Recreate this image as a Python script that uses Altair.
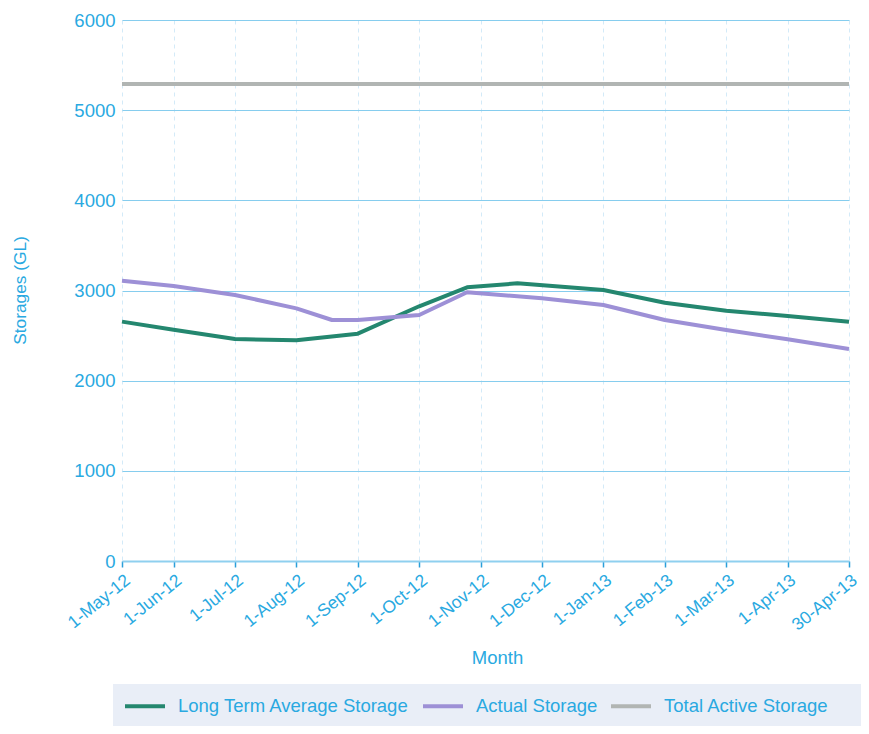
import altair as alt
import pandas as pd

# x positions are in "month" units along the axis: 1-Jun-12 = 1, ..., 30-Apr-13 = 12
tick_labels = ["1-May-12", "1-Jun-12", "1-Jul-12", "1-Aug-12", "1-Sep-12", "1-Oct-12",
               "1-Nov-12", "1-Dec-12", "1-Jan-13", "1-Feb-13", "1-Mar-13", "1-Apr-13", "30-Apr-13"]
tick_pos = [0.16, 1, 2, 3, 4, 5, 6, 7, 8, 9, 10, 11, 12]

ltas_pos = [0.16, 1, 2, 3, 4, 5, 5.78, 6.6, 8, 9, 10, 11, 12]
ltas_val = [2655, 2565, 2462, 2448, 2521, 2825, 3035, 3080, 3005, 2865, 2776, 2717, 2654]

actual_pos = [0.16, 1, 2, 3, 3.58, 4, 5, 5.78, 7, 8, 9, 10, 11, 12]
actual_val = [3108, 3050, 2950, 2802, 2673, 2673, 2728, 2980, 2915, 2839, 2673, 2562, 2459, 2351]

total_pos = [0.16, 12]
total_val = [5290, 5290]

y_ticks = [0, 1000, 2000, 3000, 4000, 5000, 6000]

series_names = ["Long Term Average Storage", "Actual Storage", "Total Active Storage"]
series_colors = ["#24876f", "#9d90d6", "#b1b5b3"]
series_widths = [4, 4, 5]

rows = []
for name, xs, ys in [(series_names[0], ltas_pos, ltas_val),
                     (series_names[1], actual_pos, actual_val),
                     (series_names[2], total_pos, total_val)]:
    for x, y in zip(xs, ys):
        rows.append({"series": name, "pos": x, "value": y})
df = pd.DataFrame(rows)

TXT = "#29a9e1"
FONT = "Liberation Sans"

label_expr = ("[" + ",".join("'" + t + "'" for t in tick_labels) + "][indexof(["
              + ",".join(str(p) for p in tick_pos) + "], datum.value)]")

chart = alt.Chart(df).mark_line(strokeJoin="round").encode(
    x=alt.X("pos:Q",
            scale=alt.Scale(domain=[tick_pos[0], tick_pos[-1]], nice=False, zero=False),
            axis=alt.Axis(values=tick_pos, labelExpr=label_expr, title="Month",
                          labelAngle=-39, labelFontSize=17.5, labelColor=TXT, labelFont=FONT,
                          titleFontSize=18.5, titleColor=TXT, titleFont=FONT, titleFontWeight="normal",
                          titleX=375, titleY=96, titleBaseline="middle",
                          grid=True, gridColor="#d3eaf8", gridDash=[4, 4], gridWidth=1,
                          domainColor="#8fd0ef", domainWidth=2,
                          tickColor="#2a9fd9", tickSize=6, tickWidth=1.5,
                          labelPadding=4, labelOverlap=False, labelBound=False, labelFlush=False)),
    y=alt.Y("value:Q",
            scale=alt.Scale(domain=[0, 6000], nice=False),
            axis=alt.Axis(values=y_ticks, format="d", title="Storages (GL)",
                          labelFontSize=18.5, labelColor=TXT, labelFont=FONT, labelPadding=7,
                          titleFontSize=17.3, titleColor=TXT, titleFont=FONT, titleFontWeight="normal",
                          titleX=-102, titleY=270, titleAngle=-90, titleAlign="center",
                          titleBaseline="middle",
                          grid=True, gridColor="#86cdee", gridWidth=1.2,
                          ticks=False, domain=False)),
    color=alt.Color("series:N",
                    scale=alt.Scale(domain=series_names, range=series_colors),
                    legend=alt.Legend(title=" ", titleOrient="right", titlePadding=22,
                                      titleFontSize=18, titleFont=FONT,
                                      orient="none", legendX=-9, legendY=664,
                                      direction="horizontal", fillColor="#e9eef7",
                                      padding=10, symbolType="M-1,0H3", symbolSize=400,
                                      symbolStrokeWidth=5, labelFontSize=18.5, labelColor=TXT,
                                      labelFont=FONT, labelOffset=31, columnPadding=5,
                                      labelLimit=400)),
    strokeWidth=alt.StrokeWidth("series:N",
                                scale=alt.Scale(domain=series_names, range=series_widths),
                                legend=None),
).properties(
    width=727, height=541,
    autosize=alt.AutoSizeParams(type="none"),
    padding={"left": 114, "top": 12, "right": 12, "bottom": 165},
).configure_view(stroke=None)

chart.save("out.html", embed_options={"renderer": "svg", "actions": False})
